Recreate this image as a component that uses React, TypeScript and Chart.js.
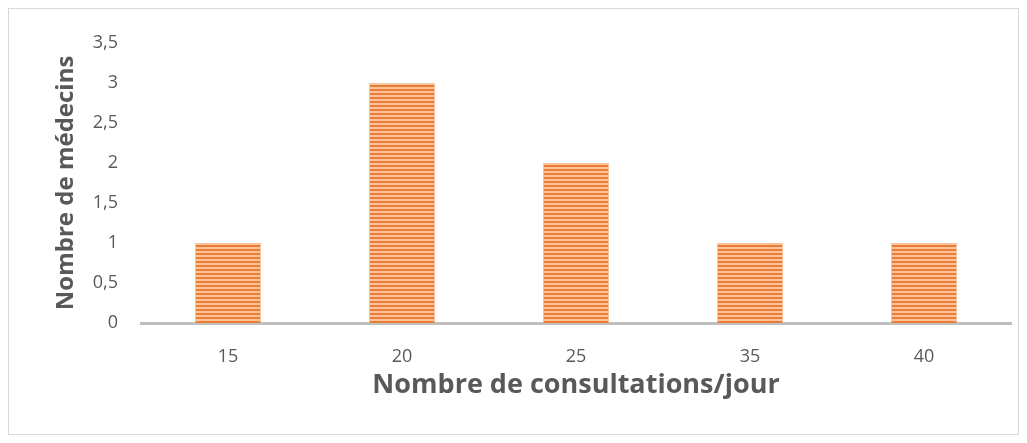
import React, { useEffect, useRef } from "react";
import { Chart, registerables } from "chart.js";

Chart.register(...registerables);

const categories = ["15", "20", "25", "35", "40"];
const doctors = [1, 3, 2, 1, 1];
const yMax = 3.5;
const yStep = 0.5;
const xTitle = "Nombre de consultations/jour";
const yTitle = "Nombre de médecins";

function makeStripes(): CanvasPattern | string {
  const c = document.createElement("canvas");
  c.width = 4;
  c.height = 4;
  const ctx = c.getContext("2d");
  if (!ctx) return "#ED7D31";
  ctx.fillStyle = "#F8C4A0";
  ctx.fillRect(0, 0, 4, 4);
  ctx.fillStyle = "#ED7D31";
  ctx.fillRect(0, 0, 4, 2);
  const p = ctx.createPattern(c, "repeat");
  return p || "#ED7D31";
}

export default function App() {
  const ref = useRef<HTMLCanvasElement | null>(null);
  useEffect(() => {
    if (!ref.current) return;
    const font = "'Open Sans', 'DejaVu Sans', sans-serif";
    const chart = new Chart(ref.current, {
      type: "bar",
      data: {
        labels: categories,
        datasets: [
          {
            data: doctors,
            backgroundColor: makeStripes() as any,
            borderColor: "rgba(244,177,131,0.8)",
            borderWidth: 1,
            categoryPercentage: 1,
            barPercentage: 0.38,
          },
        ],
      },
      options: {
        animation: false,
        responsive: false,
        maintainAspectRatio: false,
        layout: { padding: { top: 32, right: 7, left: 0, bottom: 0 } },
        plugins: { legend: { display: false }, tooltip: { enabled: false } },
        scales: {
          x: {
            grid: { display: false, drawTicks: false },
            border: { display: true, color: "#BFBFBF", width: 3 },
            ticks: {
              color: "#595959",
              font: { family: font, size: 18 },
              padding: 23,
            },
            title: {
              display: true,
              text: xTitle,
              color: "#595959",
              font: { family: font, size: 27, weight: "bold" },
              padding: { top: 0, bottom: 32 },
            },
            afterFit: (s: any) => {
              s.height = 111;
            },
          },
          y: {
            min: 0,
            max: yMax,
            grid: { display: false, drawTicks: false },
            border: { display: false },
            ticks: {
              stepSize: yStep,
              color: "#595959",
              font: { family: font, size: 18 },
              padding: 23,
              callback: (v: any) => String(v).replace(".", ","),
            },
            title: {
              display: true,
              text: yTitle,
              color: "#595959",
              font: { family: font, size: 24, weight: "bold" },
              padding: { top: 43, bottom: 0 },
            },
            afterFit: (s: any) => {
              s.width = 132;
            },
          },
        },
      },
    });
    return () => chart.destroy();
  }, []);
  return (
    <div
      style={{
        width: 1011,
        height: 427,
        border: "1px solid #D9D9D9",
        boxSizing: "border-box",
        background: "#fff",
      }}
    >
      <canvas ref={ref} width={1009} height={425} style={{ display: "block" }} />
    </div>
  );
}
